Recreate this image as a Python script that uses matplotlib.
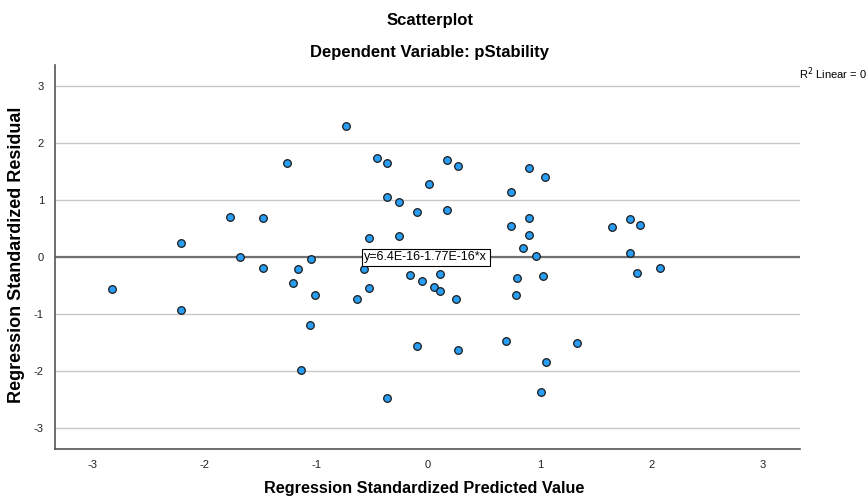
import matplotlib
matplotlib.use('Agg')
import matplotlib.pyplot as plt

# predicted values (x) and residuals (y)
pred_std = [-2.83, -2.21, -2.21, -1.77, -1.68, -1.48, -1.48, -1.26, -1.21, -1.16,
            -1.05, -1.01, -1.06, -1.14, -0.73, -0.64, -0.53, -0.53, -0.57, -0.46,
            -0.37, -0.37, -0.37, -0.26, -0.26, -0.16, -0.10, -0.10, -0.05, 0.01,
            0.05, 0.11, 0.11, 0.17, 0.17, 0.25, 0.27, 0.27, 0.70, 0.74,
            0.74, 0.80, 0.79, 0.85, 0.90, 0.90, 0.90, 0.97, 1.03, 1.05,
            1.06, 1.01, 1.33, 1.65, 1.81, 1.90, 1.81, 1.87, 2.08]
resid_std = [-0.56, 0.25, -0.93, 0.70, 0.00, 0.68, -0.19, 1.65, -0.46, -0.21,
             -0.04, -0.67, -1.19, -1.98, 2.30, -0.74, 0.33, -0.54, -0.21, 1.74,
             1.65, 1.05, -2.47, 0.96, 0.37, -0.32, 0.79, -1.56, -0.42, 1.28,
             -0.53, -0.30, -0.60, 1.70, 0.82, -0.74, 1.60, -1.63, -1.47, 1.14,
             0.54, -0.37, -0.67, 0.16, 1.56, 0.68, 0.39, 0.02, -0.33, 1.40,
             -1.84, -2.37, -1.51, 0.53, 0.67, 0.56, 0.07, -0.28, -0.19]
ticks = [-3, -2, -1, 0, 1, 2, 3]
fit_intercept = 6.4e-16
fit_slope = -1.77e-16

plt.rcParams['font.family'] = ['Liberation Sans', 'DejaVu Sans']

fig = plt.figure(figsize=(8.67, 5), dpi=100)
ax = fig.add_axes([0.0634, 0.102, 0.8593, 0.768])
ax.set_xlim(-3.34, 3.33)
ax.set_ylim(-3.37, 3.37)

for t in ticks:
    ax.axhline(t, color='#c8c8c8', lw=1, zorder=0)

xs = [-3.34, 3.33]
ax.plot(xs, [fit_intercept + fit_slope * v for v in xs], color='#707070', lw=1.6, zorder=1)

ax.scatter(pred_std, resid_std, s=30, facecolor='#2a9df4', edgecolor='#1a1a1a',
           linewidths=0.9, zorder=3)

ax.text(-0.57, 0.0, 'y=6.4E-16-1.77E-16*x', fontsize=9, va='center', ha='left', zorder=4,
        bbox=dict(boxstyle='square,pad=0.2', facecolor='white', edgecolor='black', lw=0.8))

ax.set_xticks(ticks)
ax.set_yticks(ticks)
ax.set_xticklabels([str(t) for t in ticks])
ax.set_yticklabels([str(t) for t in ticks])
ax.tick_params(length=0, labelsize=8, colors='#222222', pad=8)
for side in ['top', 'right']:
    ax.spines[side].set_visible(False)
for side in ['left', 'bottom']:
    ax.spines[side].set_color('#555555')
    ax.spines[side].set_linewidth(1.2)

ax.set_xlabel('Regression Standardized Predicted Value', fontsize=11.7, fontweight='bold')
ax.set_ylabel('Regression Standardized Residual', fontsize=13, fontweight='bold')
ax.xaxis.set_label_coords(0.495, -0.102)
ax.yaxis.set_label_coords(-0.052, 0.505)
ax.xaxis.label.set_va('center')
ax.yaxis.label.set_va('center')

fig.text(0.496, 0.96, 'Scatterplot', ha='center', va='center', fontsize=12, fontweight='bold')
fig.text(0.495, 0.896, 'Dependent Variable: pStability', ha='center', va='center', fontsize=12, fontweight='bold')
fig.text(0.922, 0.853, 'R$^2$ Linear = 0', ha='left', va='center', fontsize=8)

fig.savefig('out.png', dpi=100)
